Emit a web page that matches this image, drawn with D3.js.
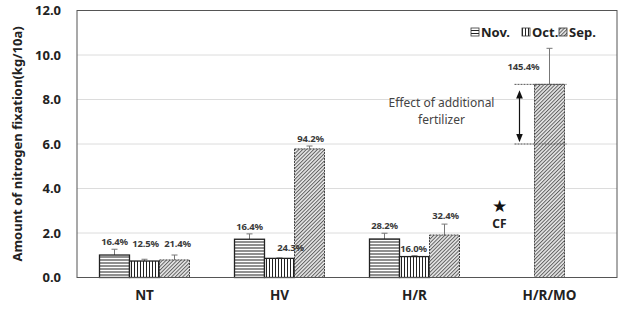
<!DOCTYPE html>
<html>
<head>
<meta charset="utf-8">
<script src="https://cdn.jsdelivr.net/npm/d3@7"></script>
<style>
  body { margin: 0; background: #fff; }
  svg { display: block; }
</style>
</head>
<body>
<div id="chart"></div>
<script>
// categories, series and values
const categories = ["NT", "HV", "H/R", "H/R/MO"];
const seriesNames = ["Nov.", "Oct.", "Sep."];
const novValues = [1.01, 1.72, 1.73, null];
const octValues = [0.74, 0.86, 0.94, null];
const sepValues = [0.79, 5.78, 1.91, 8.68];
const novErrors = [0.26, 0.24, 0.26, null];
const octErrors = [0.08, 0.02, 0.04, null];
const sepErrors = [0.22, 0.13, 0.49, 1.62];
const novLabels = ["16.4%", "16.4%", "28.2%", null];
const octLabels = ["12.5%", "24.3%", "16.0%", null];
const sepLabels = ["21.4%", "94.2%", "32.4%", "145.4%"];
const yTicks = [0, 2, 4, 6, 8, 10, 12];
const effectRange = [6.0, 8.68];   // "Effect of additional fertilizer"
const cfValue = 3.2;               // star marker, H/R/MO column

const W = 623, H = 311;
const margin = { top: 10.5, right: 6, bottom: 33.5, left: 77 };
const width = W - margin.left - margin.right;
const height = H - margin.top - margin.bottom;
const font = "'Noto Sans', 'Open Sans', sans-serif";

const svg = d3.select("#chart").append("svg")
  .attr("width", W).attr("height", H);

// hatch patterns
const defs = svg.append("defs");
const hp = defs.append("pattern").attr("id", "p-nov")
  .attr("patternUnits", "userSpaceOnUse").attr("width", 6).attr("height", 3);
hp.append("rect").attr("width", 6).attr("height", 3).attr("fill", "#fff");
hp.append("line").attr("x1", 0).attr("x2", 6).attr("y1", 0.5).attr("y2", 0.5)
  .attr("stroke", "#222").attr("stroke-width", 1);
const vp = defs.append("pattern").attr("id", "p-oct")
  .attr("patternUnits", "userSpaceOnUse").attr("width", 3).attr("height", 6);
vp.append("rect").attr("width", 3).attr("height", 6).attr("fill", "#fff");
vp.append("line").attr("y1", 0).attr("y2", 6).attr("x1", 0.5).attr("x2", 0.5)
  .attr("stroke", "#222").attr("stroke-width", 1);
const dp = defs.append("pattern").attr("id", "p-sep")
  .attr("patternUnits", "userSpaceOnUse").attr("width", 2.6).attr("height", 2.6)
  .attr("patternTransform", "rotate(45)");
dp.append("rect").attr("width", 2.6).attr("height", 2.6).attr("fill", "#e6e6e6");
dp.append("line").attr("x1", 0.5).attr("x2", 0.5).attr("y1", 0).attr("y2", 2.6)
  .attr("stroke", "#555").attr("stroke-width", 0.9);

const fills = ["url(#p-nov)", "url(#p-oct)", "url(#p-sep)"];

const g = svg.append("g").attr("transform", `translate(${margin.left},${margin.top})`);

const x0 = d3.scaleBand().domain(categories).range([0, width])
  .paddingInner(1 / 3).paddingOuter(1 / 6);
const x1 = d3.scaleBand().domain(seriesNames).range([0, x0.bandwidth()]);
const y = d3.scaleLinear().domain([0, 12]).range([height, 0]);

// grid
g.selectAll(".grid").data(yTicks.slice(1, -1)).join("line")
  .attr("x1", 0).attr("x2", width)
  .attr("y1", d => y(d)).attr("y2", d => y(d))
  .attr("stroke", "#dcdcdc").attr("stroke-width", 1);

// y axis tick labels
const yAxis = g.append("g").call(d3.axisLeft(y).tickValues(yTicks).tickFormat(d3.format(".1f")).tickSize(0).tickPadding(16));
yAxis.select(".domain").remove();
yAxis.selectAll("text").attr("font-family", font).attr("font-size", "13px")
  .attr("font-weight", "bold").attr("fill", "#222");

// x axis labels
const xAxis = g.append("g").attr("transform", `translate(0,${height})`)
  .call(d3.axisBottom(x0).tickSize(0).tickPadding(13));
xAxis.select(".domain").remove();
xAxis.selectAll("text").attr("font-family", font).attr("font-size", "13.5px")
  .attr("font-weight", "bold").attr("fill", "#222");

// bar records
const valueSets = [novValues, octValues, sepValues];
const errorSets = [novErrors, octErrors, sepErrors];
const labelSets = [novLabels, octLabels, sepLabels];
const bars = [];
categories.forEach((c, ci) => {
  const present = seriesNames.filter((s, si) => valueSets[si][ci] != null);
  seriesNames.forEach((s, si) => {
    const v = valueSets[si][ci];
    if (v == null) return;
    // single bar in a group is centered
    const bx = present.length === 1
      ? x0(c) + (x0.bandwidth() - x1.bandwidth()) / 2
      : x0(c) + x1(s);
    bars.push({ c, ci, s, si, v, e: errorSets[si][ci], label: labelSets[si][ci], bx });
  });
});

// error bars
const eg = g.append("g");
bars.forEach(d => {
  const cx = d.bx + x1.bandwidth() / 2;
  eg.append("line").attr("x1", cx).attr("x2", cx)
    .attr("y1", y(d.v)).attr("y2", y(d.v + d.e))
    .attr("stroke", "#777").attr("stroke-width", 1);
  eg.append("line").attr("x1", cx - 3).attr("x2", cx + 3)
    .attr("y1", y(d.v + d.e)).attr("y2", y(d.v + d.e))
    .attr("stroke", "#777").attr("stroke-width", 1);
});

// bars
g.append("g").selectAll("rect").data(bars).join("rect")
  .attr("x", d => d.bx).attr("y", d => y(d.v))
  .attr("width", x1.bandwidth()).attr("height", d => y(0) - y(d.v))
  .attr("fill", d => fills[d.si])
  .attr("stroke", d => d.si === 2 ? "#444" : "#222")
  .attr("stroke-width", d => d.si === 2 ? 1 : 1.3)
  .attr("stroke-dasharray", d => d.si === 2 ? "2,1" : null);

// percentage labels, small nudges where the original moves them aside
const labelNudge = {
  "NT|Oct.": [1, -8], "NT|Sep.": [3, -4],
  "HV|Oct.": [11, -3], "HV|Sep.": [1, 0],
  "H/R|Oct.": [-1, 0], "H/R|Sep.": [1, -1],
  "H/R/MO|Sep.": [-26, 26]
};
g.append("g").selectAll("text").data(bars).join("text")
  .attr("x", d => d.bx + x1.bandwidth() / 2 + (labelNudge[d.c + "|" + d.s] || [0, 0])[0])
  .attr("y", d => y(d.v + d.e) - 4 + (labelNudge[d.c + "|" + d.s] || [0, 0])[1])
  .attr("text-anchor", "middle")
  .attr("font-family", font).attr("font-size", "9.5px").attr("font-weight", "bold")
  .attr("letter-spacing", "-0.2px")
  .attr("fill", "#3a3a3a")
  .text(d => d.label);

// fertilizer effect annotation
const moBar = bars.find(d => d.c === "H/R/MO");
const ax = moBar.bx - 15;
effectRange.forEach(v => {
  g.append("line").attr("x1", moBar.bx - 20).attr("x2", moBar.bx + x1.bandwidth() + 2)
    .attr("y1", y(v)).attr("y2", y(v))
    .attr("stroke", "#555").attr("stroke-width", 1).attr("stroke-dasharray", "2,1");
});
defs.append("marker").attr("id", "arrow").attr("viewBox", "0 0 10 10")
  .attr("refX", 5).attr("refY", 5).attr("markerWidth", 7).attr("markerHeight", 7)
  .attr("orient", "auto-start-reverse")
  .append("path").attr("d", "M0,1 L10,5 L0,9 Z").attr("fill", "#111");
g.append("line").attr("x1", ax).attr("x2", ax)
  .attr("y1", y(effectRange[1]) + 10).attr("y2", y(effectRange[0]) - 6)
  .attr("stroke", "#111").attr("stroke-width", 1.2)
  .attr("marker-start", "url(#arrow)").attr("marker-end", "url(#arrow)");
const et = g.append("text").attr("text-anchor", "middle")
  .attr("font-family", font).attr("font-size", "12px").attr("fill", "#444");
et.append("tspan").attr("x", ax - 78).attr("y", y(effectRange[1]) + 23).text("Effect of additional");
et.append("tspan").attr("x", ax - 78).attr("y", y(effectRange[1]) + 40).text("fertilizer");

// CF star
g.append("text").attr("x", moBar.bx - 35).attr("y", y(cfValue) + 6)
  .attr("text-anchor", "middle").attr("font-family", "'DejaVu Sans', sans-serif")
  .attr("font-size", "17px").attr("fill", "#111").text("★");
g.append("text").attr("x", moBar.bx - 35).attr("y", y(cfValue) + 22)
  .attr("text-anchor", "middle").attr("font-family", font)
  .attr("font-size", "12px").attr("font-weight", "bold").attr("fill", "#222").text("CF");

// plot frame
g.append("rect").attr("width", width).attr("height", height)
  .attr("fill", "none").attr("stroke", "#555").attr("stroke-width", 1);

// legend
const legendX = [475, 526, 563];
const lg = svg.append("g");
seriesNames.forEach((s, i) => {
  lg.append("rect").attr("x", legendX[i] - 4).attr("y", 28).attr("width", 8).attr("height", 8)
    .attr("fill", fills[i]).attr("stroke", "#333").attr("stroke-width", 0.8);
  lg.append("text").attr("x", legendX[i] + 6).attr("y", 36.5)
    .attr("font-family", font).attr("font-size", "13px").attr("font-weight", "bold")
    .attr("fill", "#222").text(s);
});

// y axis title
svg.append("text")
  .attr("transform", `translate(22,${margin.top + height / 2}) rotate(-90)`)
  .attr("text-anchor", "middle")
  .attr("font-family", font).attr("font-size", "13px").attr("font-weight", "bold")
  .attr("fill", "#222")
  .text("Amount of nitrogen fixation(kg/10a)");
</script>
</body>
</html>
